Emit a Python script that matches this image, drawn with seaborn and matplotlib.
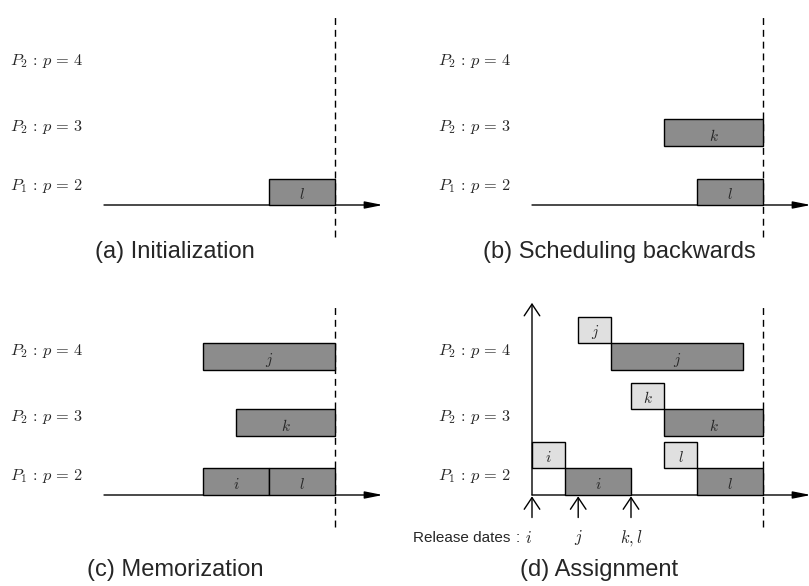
import matplotlib
matplotlib.use("Agg")
import matplotlib.pyplot as plt
import seaborn as sns

sns.set_theme(style="white")
plt.rcParams["mathtext.fontset"] = "cm"
plt.rcParams["font.family"] = ["Liberation Sans", "DejaVu Sans"]

# ---------------- data ----------------
row_labels = [r"$P_1\,:\,p\,=\,2$", r"$P_2\,:\,p\,=\,3$", r"$P_2\,:\,p\,=\,4$"]
row_bottoms = [0.0, 2.23, 4.72]      # vertical level of each processor row
deadline = 7.0

panel_titles = ["(a) Initialization", "(b) Scheduling backwards",
                "(c) Memorization", "(d) Assignment"]

# dark (scheduled) jobs per panel: name, row, start, duration
a_names, a_rows, a_start, a_dur = ["l"], [0], [5], [2]
b_names, b_rows, b_start, b_dur = ["l", "k"], [0, 1], [5, 4], [2, 3]
c_names, c_rows, c_start, c_dur = ["i", "l", "k", "j"], [0, 0, 1, 2], [3, 5, 4, 3], [2, 2, 3, 4]
d_names, d_rows, d_start, d_dur = ["i", "l", "k", "j"], [0, 0, 1, 2], [1, 5, 4, 2.4], [2, 2, 3, 4]
# light (assignment) boxes in panel d
d_light_names = ["i", "l", "k", "j"]
d_light_rows = [0, 0, 1, 2]
d_light_start = [0, 4, 3, 1.4]
d_light_dur = [1, 1, 1, 1]
# release dates in panel d
release_t = [0, 1.4, 3]
release_lab = ["i", "j", "k,l"]

dark_jobs = [
    (a_names, a_rows, a_start, a_dur),
    (b_names, b_rows, b_start, b_dur),
    (c_names, c_rows, c_start, c_dur),
    (d_names, d_rows, d_start, d_dur),
]

# ---------------- layout ----------------
W, H = 809, 586
UX, UY = 33.0, 26.5           # pixels per unit
XMIN, XMAX = -3.2, 8.7
YMIN, YMAX = -3.2, 7.6
origins = [(104, 205), (532, 205), (104, 495), (532, 495)]
title_pos = [(2.15, -1.77), (2.64, -1.77), (2.17, -2.83), (2.03, -2.83)]

DARK = "#8c8c8c"
LIGHT = "#e0e0e0"
OPEN_HEAD = "->,head_length=0.6,head_width=0.4"

fig = plt.figure(figsize=(W / 100, H / 100), dpi=100)

for p in range(4):
    ox, by = origins[p]
    left = ox + XMIN * UX
    bottom_top = by - YMIN * UY
    ax = fig.add_axes([left / W, (H - bottom_top) / H,
                       (XMAX - XMIN) * UX / W, (YMAX - YMIN) * UY / H])
    ax.set_xlim(XMIN, XMAX)
    ax.set_ylim(YMIN, YMAX)
    ax.axis("off")

    # row labels
    for lab, yb in zip(row_labels, row_bottoms):
        ax.text(-2.85, yb + 0.7, lab, ha="left", va="center", fontsize=11.8)

    # time axis
    ax.annotate("", xy=(8.45, 0), xytext=(0, 0),
                arrowprops=dict(arrowstyle="-|>,head_length=0.9,head_width=0.18",
                                lw=1.0, color="black", shrinkA=0, shrinkB=0),
                annotation_clip=False)

    # deadline
    ax.plot([deadline, deadline], [-1.2, 7.25], color="black", lw=1.0,
            ls=(0, (5, 3.5)), clip_on=False, zorder=1)

    names, rows, starts, durs = dark_jobs[p]
    ax.barh([row_bottoms[r] for r in rows], durs, left=starts, height=1.0,
            align="edge", color=DARK, edgecolor="black", linewidth=1.0, zorder=3)
    for n, r, s, d in zip(names, rows, starts, durs):
        ax.text(s + d / 2, row_bottoms[r] + 0.38, f"${n}$", ha="center",
                va="center", fontsize=11, zorder=4)

    if p == 3:
        ax.barh([row_bottoms[r] + 1.0 for r in d_light_rows], d_light_dur,
                left=d_light_start, height=1.0, align="edge", color=LIGHT,
                edgecolor="black", linewidth=1.0, zorder=3)
        for n, r, s, d in zip(d_light_names, d_light_rows, d_light_start, d_light_dur):
            ax.text(s + d / 2, row_bottoms[r] + 1.42, f"${n}$", ha="center",
                    va="center", fontsize=11, zorder=4)
        # vertical axis
        ax.annotate("", xy=(0, 7.25), xytext=(0, 0),
                    arrowprops=dict(arrowstyle=OPEN_HEAD, lw=1.0, color="black",
                                    shrinkA=0, shrinkB=0, mutation_scale=14),
                    annotation_clip=False)
        for t in release_t:
            ax.annotate("", xy=(t, -0.05), xytext=(t, -0.85),
                        arrowprops=dict(arrowstyle=OPEN_HEAD, lw=1.0, color="black",
                                        shrinkA=0, shrinkB=0, mutation_scale=14),
                        annotation_clip=False)
        ax.text(-0.65, -1.62, "Release dates", ha="right", va="center", fontsize=11)
        ax.text(-0.42, -1.62, ":", ha="center", va="center", fontsize=11)
        for t, lab in zip(release_t, release_lab):
            xx = -0.12 if t == 0 else t
            ax.text(xx, -1.62, f"${lab}$", ha="center", va="center", fontsize=12)

    tx, ty = title_pos[p]
    ax.text(tx, ty, panel_titles[p], ha="center", va="center", fontsize=17)

fig.savefig("out.png", dpi=100)
